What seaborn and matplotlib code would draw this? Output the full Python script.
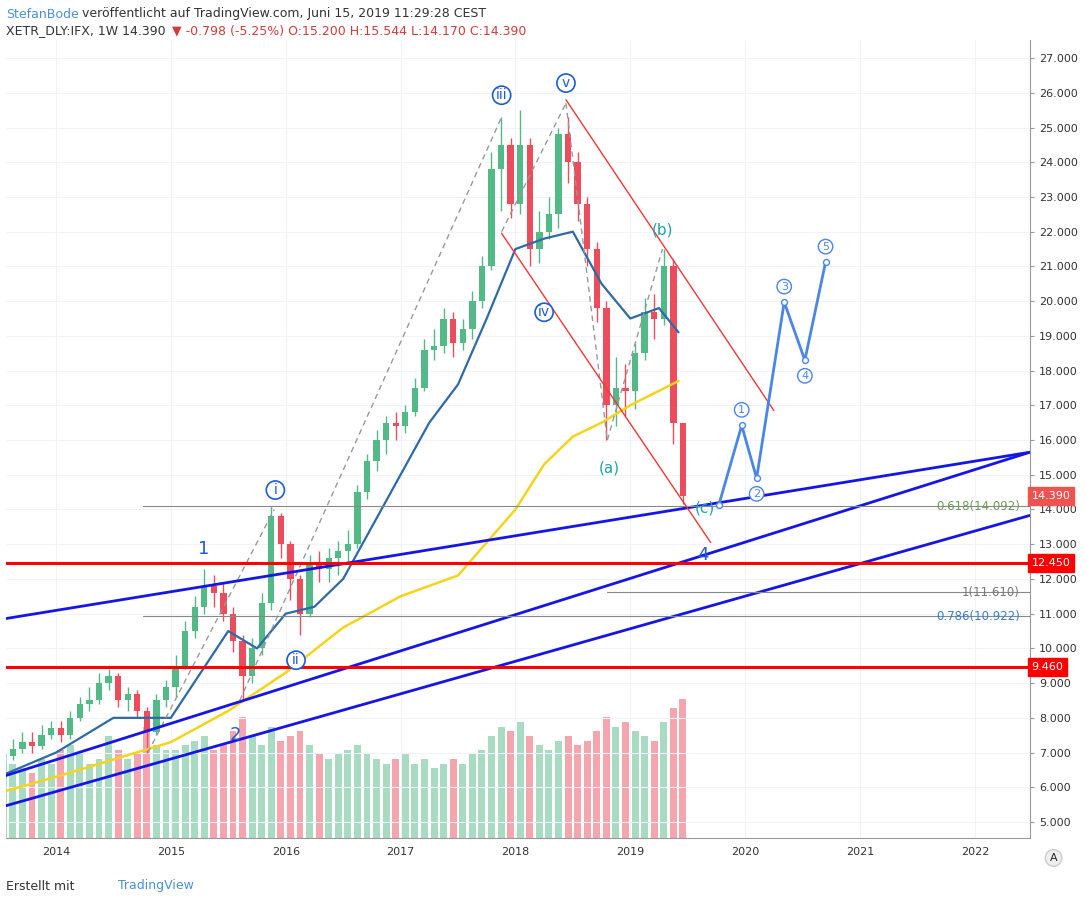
import numpy as np
import pandas as pd
import matplotlib
matplotlib.use("Agg")
import matplotlib.pyplot as plt
import seaborn as sns

# ---------------- data (monthly, Jul 2013 .. Jun 2019) ----------------
closes = [6.9,7.1,7.3,7.2,7.5,7.7,
          7.5,8.0,8.4,8.5,9.0,9.2,8.5,8.7,8.2,7.6,8.5,8.9,
          9.5,10.5,11.2,11.8,11.6,11.0,10.2,9.2,10.0,11.3,13.8,13.0,
          12.0,11.0,12.5,12.3,12.6,12.8,13.0,14.5,15.4,16.0,16.5,16.4,
          16.8,17.5,18.6,18.7,19.5,18.8,19.2,20.0,21.0,23.8,24.5,22.8,
          24.5,21.5,22.0,22.5,24.8,24.0,22.8,21.5,19.8,17.0,17.5,17.4,
          18.5,19.7,19.5,21.0,16.5,14.39]
highs = [7.2,7.4,7.6,7.6,7.8,7.9,
         7.9,8.2,8.6,8.9,9.3,9.4,9.3,8.9,8.8,8.3,8.7,9.1,
         9.8,10.8,11.5,12.3,12.1,11.9,11.2,10.4,10.3,11.6,14.1,13.9,
         13.1,12.1,12.7,12.8,12.9,13.1,13.4,14.7,15.6,16.3,16.7,16.8,
         17.0,17.8,18.9,19.2,19.8,19.7,19.5,20.3,21.3,24.3,25.3,24.7,
         25.5,24.7,22.6,23.0,25.0,25.3,24.3,23.0,21.7,20.0,18.4,18.2,
         18.8,20.1,20.2,21.5,21.2,15.54]
lows = [6.6,6.8,7.0,7.0,7.1,7.4,
        7.3,7.4,7.9,8.2,8.4,8.8,8.3,8.2,8.0,7.0,7.5,8.3,
        8.6,9.4,10.3,11.0,11.2,10.8,9.9,8.5,9.0,9.8,11.1,12.6,
        11.4,10.4,10.9,11.9,11.9,12.1,12.5,12.9,14.3,15.1,15.6,16.0,
        16.2,16.7,17.4,18.3,18.5,18.4,18.6,18.9,19.8,20.9,22.6,22.4,
        22.5,21.0,21.1,21.8,22.1,23.4,22.3,21.0,19.4,16.0,16.4,16.7,
        16.9,18.3,18.9,19.3,15.9,14.17]
volumes = [90,80,75,70,85,80,
           95,100,90,80,85,110,95,85,90,120,100,95,
           95,100,105,110,95,100,115,130,110,100,120,105,
           110,115,100,90,85,90,95,100,90,85,80,85,
           90,80,85,75,80,85,80,90,95,110,120,115,
           125,110,100,95,105,110,100,105,115,130,120,125,
           115,110,105,125,140,150]

ma50_x = [2013.57,2014.0,2014.5,2015.0,2015.5,2015.75,2016.0,2016.25,2016.5,2016.75,
          2017.0,2017.25,2017.5,2017.75,2018.0,2018.25,2018.5,2018.75,2019.0,2019.25,2019.42]
ma50_y = [6.4,7.0,8.0,8.0,10.5,10.0,11.0,11.2,12.0,13.5,
          15.0,16.5,17.6,19.5,21.5,21.8,22.0,20.5,19.5,19.8,19.1]
ma200_x = [2013.57,2014.0,2014.5,2015.0,2015.5,2016.0,2016.5,2017.0,2017.5,
           2018.0,2018.25,2018.5,2018.75,2019.0,2019.42]
ma200_y = [5.9,6.3,6.8,7.3,8.2,9.3,10.6,11.5,12.1,
           14.0,15.3,16.1,16.5,17.0,17.7]

proj_x = [2019.77,2019.97,2020.10,2020.34,2020.52,2020.70]
proj_y = [14.12,16.42,14.90,19.97,18.30,21.12]
proj_labels = ["","1","2","3","4","5"]

year_ticks = [2014,2015,2016,2017,2018,2019,2020,2021,2022]
price_ticks = list(range(5,28))

# ---------------- figure ----------------
sns.set_style("white")
fig = plt.figure(figsize=(10.87,9.02), dpi=100)
ax = fig.add_axes([6/1087, 64/902, 1024/1087, 798/902])
vax = ax.twinx()
vax.set_zorder(0); ax.set_zorder(1); ax.patch.set_visible(False)

x = 2013.5 + np.arange(len(closes))/12 + 1/24
opens = [6.8] + closes[:-1]
up = np.array(closes) >= np.array(opens)
green, red = "#53b987", "#eb4d5c"

vol_df = pd.DataFrame({"x": x, "v": volumes, "up": up})
for u, c in [(True, green), (False, red)]:
    d = vol_df[vol_df.up == u]
    vax.bar(d.x, d.v, width=0.06, color=c, alpha=0.5, linewidth=0)
vax.set_ylim(0, 860)
vax.set_yticks([])
for s in vax.spines.values(): s.set_visible(False)

for yv in price_ticks:
    ax.axhline(yv, color="#f0f3fa", lw=0.8, zorder=0)
for xv in year_ticks:
    ax.axvline(xv, color="#f0f3fa", lw=0.8, zorder=0)

for xi, o, h, l, c, u in zip(x, opens, highs, lows, closes, up):
    col = green if u else red
    ax.vlines(xi, l, h, color=col, lw=1, zorder=3)
    ax.bar(xi, abs(c-o) if abs(c-o) > 0.05 else 0.05, bottom=min(o, c), width=0.055,
           color=col, zorder=3, linewidth=0)

sns.lineplot(x=ma200_x, y=ma200_y, ax=ax, color="#f5d41b", lw=1.8, zorder=4)
sns.lineplot(x=ma50_x, y=ma50_y, ax=ax, color="#2e6aa8", lw=1.6, zorder=4)

X0, X1 = 2013.565, 2022.48
blue = "#1515e6"
ax.plot([X0, X1], [10.86, 15.65], color=blue, lw=2, zorder=5)
ax.plot([X0, X1], [6.34, 15.65], color=blue, lw=2, zorder=5)
ax.plot([X0, X1], [5.47, 13.83], color=blue, lw=2, zorder=5)

for lvl in [12.45, 9.46]:
    ax.axhline(lvl, color="#ff0000", lw=2.2, zorder=5)
ax.plot([2014.76, X1], [14.092]*2, color="#888", lw=0.8, zorder=5)
ax.plot([2014.76, X1], [10.922]*2, color="#888", lw=0.8, zorder=5)
ax.plot([2018.8, X1], [11.61]*2, color="#888", lw=0.8, zorder=5)
ax.text(2022.39, 14.092, "0.618(14.092)", color="#6e9a58", fontsize=8.5, ha="right", va="center", zorder=6)
ax.text(2022.39, 11.61, "1(11.610)", color="#777", fontsize=8.5, ha="right", va="center", zorder=6)
ax.text(2022.39, 10.922, "0.786(10.922)", color="#3a7ec9", fontsize=8.5, ha="right", va="center", zorder=6)

ax.plot([2018.44, 2020.25], [25.8, 16.85], color="#f23636", lw=1, zorder=5)
ax.plot([2017.88, 2019.70], [21.95, 13.05], color="#f23636", lw=1, zorder=5)

for seg in [[(2014.8, 7.0), (2015.9, 14.0)], [(2015.6, 8.5), (2017.88, 25.3)],
            [(2017.88, 22.0), (2018.44, 25.7)], [(2018.44, 25.7), (2018.8, 16.0)],
            [(2018.8, 16.0), (2019.28, 21.5)]]:
    ax.plot([seg[0][0], seg[1][0]], [seg[0][1], seg[1][1]], color="#999", lw=1, ls=(0, (4, 3)), zorder=4)

pc = "#4a86e8"
ax.plot(proj_x, proj_y, color=pc, lw=2, zorder=6)
ax.scatter(proj_x, proj_y, s=18, facecolor="white", edgecolor=pc, zorder=7)
offs = [0, 0.45, -0.45, 0.45, -0.45, 0.45]
for px, py, lb, of in zip(proj_x, proj_y, proj_labels, offs):
    if lb:
        ax.text(px, py + of, lb, color=pc, fontsize=8, ha="center", va="center", zorder=8,
                bbox=dict(boxstyle="circle,pad=0.2", fc="white", ec=pc, lw=1))

wb = "#1f5bd6"
for tx, ty, t in [(2017.88, 25.93, "iii"), (2018.44, 26.28, "v"), (2018.25, 19.68, "iv"),
                  (2015.91, 14.56, "i"), (2016.09, 9.66, "ii")]:
    ax.text(tx, ty, t, color=wb, fontsize=10, ha="center", va="center", zorder=8,
            bbox=dict(boxstyle="circle,pad=0.15", fc="white", ec=wb, lw=1.2))
ax.text(2019.28, 22.04, "(b)", color="#1ea5a5", fontsize=11, ha="center", va="center", zorder=8)
ax.text(2018.82, 15.2, "(a)", color="#1ea5a5", fontsize=11, ha="center", va="center", zorder=8)
ax.text(2019.65, 14.05, "(c)", color="#1ea5a5", fontsize=11, ha="center", va="center", zorder=8)
ax.text(2015.29, 12.86, "1", color=wb, fontsize=13, ha="center", va="center", zorder=8)
ax.text(2015.56, 7.5, "2", color=wb, fontsize=13, ha="center", va="center", zorder=8)
ax.text(2019.63, 12.7, "4", color=wb, fontsize=13, ha="center", va="center", zorder=8)

ax.set_xlim(X0, X1)
ax.set_ylim(4.54, 27.52)
ax.yaxis.tick_right()
ax.set_yticks(price_ticks)
ax.set_yticklabels([f"{v:.3f}" for v in price_ticks], fontsize=8, color="#333")
ax.set_xticks(year_ticks)
ax.set_xticklabels([str(y) for y in year_ticks], fontsize=8, color="#333")
ax.tick_params(length=3, color="#999")
for s in ax.spines.values(): s.set_color("#999"); s.set_linewidth(0.8)
ax.spines["top"].set_visible(False)
ax.spines["left"].set_visible(False)

for lvl, txt, col in [(14.39, "14.390", "#ef5350"), (12.45, "12.450", "#ff0000"), (9.46, "9.460", "#ff0000")]:
    ax.text(1.0015, lvl, txt, transform=ax.get_yaxis_transform(), fontsize=8, color="white",
            ha="left", va="center", zorder=9,
            bbox=dict(boxstyle="square,pad=0.35", fc=col, ec=col))

ax.text(1.023, -0.025, "A", transform=ax.transAxes, fontsize=8, ha="center", va="center",
        bbox=dict(boxstyle="circle,pad=0.3", fc="#eee", ec="#ccc"))

fig.text(6/1087, 1-14/902, "StefanBode", color="#4a90d9", fontsize=9, va="center")
fig.text(82/1087, 1-14/902, "veröffentlicht auf TradingView.com, Juni 15, 2019 11:29:28 CEST",
         color="#333", fontsize=9, va="center")
fig.text(6/1087, 1-31/902, "XETR_DLY:IFX, 1W 14.390", color="#333", fontsize=9, va="center")
fig.text(172/1087, 1-31/902, "▼ -0.798 (-5.25%) O:15.200 H:15.544 L:14.170 C:14.390",
         color="#d43a3a", fontsize=9, va="center")
fig.text(6/1087, 1-886/902, "Erstellt mit", color="#333", fontsize=9, va="center")
fig.text(118/1087, 1-886/902, "TradingView", color="#4a90d9", fontsize=9, va="center")

fig.savefig("out.png", dpi=100)
